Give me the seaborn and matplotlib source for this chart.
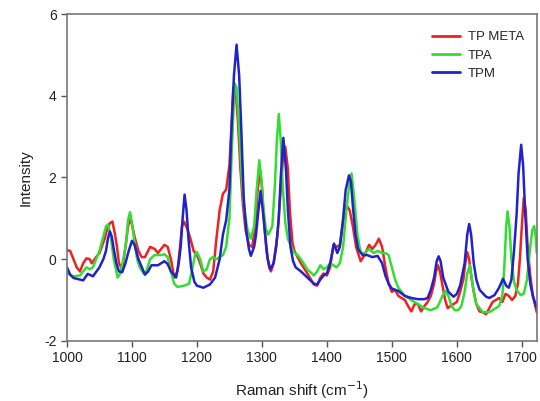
import numpy as np
import pandas as pd
import seaborn as sns
import matplotlib
matplotlib.use("Agg")
import matplotlib.pyplot as plt

# ---- data ----
tpm_x = [1000, 1005, 1010, 1020, 1025, 1032, 1040, 1050, 1056, 1060,
         1063, 1066, 1069, 1072, 1076, 1080, 1085, 1090, 1095, 1100,
         1104, 1110, 1120, 1125, 1130, 1140, 1150, 1155, 1160, 1168,
         1172, 1175, 1178, 1181, 1184, 1187, 1191, 1196, 1200, 1210,
         1220, 1228, 1235, 1240, 1245, 1250, 1253, 1257, 1261, 1265,
         1268, 1272, 1276, 1280, 1283, 1288, 1291, 1294, 1298, 1302,
         1305, 1309, 1313, 1318, 1322, 1326, 1329, 1333, 1337, 1340,
         1344, 1348, 1352, 1360, 1370, 1380, 1385, 1390, 1395, 1400,
         1405, 1411, 1416, 1420, 1425, 1429, 1434, 1437, 1440, 1444,
         1448, 1455, 1462, 1470, 1478, 1485, 1490, 1495, 1500, 1510,
         1520, 1530, 1540, 1550, 1555, 1560, 1565, 1569, 1572, 1575,
         1579, 1587, 1595, 1600, 1605, 1612, 1616, 1619, 1622, 1626,
         1630, 1635, 1645, 1650, 1658, 1665, 1671, 1676, 1680, 1684,
         1688, 1692, 1695, 1699, 1702, 1705, 1709, 1713, 1717, 1723]
tpm_y = [-0.2, -0.38, -0.46, -0.5, -0.52, -0.36, -0.42, -0.2, 0.0, 0.2,
         0.5, 0.68, 0.55, 0.25, -0.1, -0.3, -0.32, -0.1, 0.2, 0.45,
         0.35, 0.0, -0.38, -0.3, -0.15, -0.15, -0.05, -0.12, -0.3, -0.45,
         -0.1, 0.3, 1.0, 1.58, 1.2, 0.5, -0.2, -0.55, -0.65, -0.7,
         -0.62, -0.45, 0.0, 0.6, 0.95, 1.7, 3.1, 4.5, 5.25, 4.5,
         3.3, 1.5, 0.7, 0.25, 0.08, 0.3, 0.6, 1.1, 1.67, 1.1,
         0.6, 0.0, -0.25, -0.1, 0.3, 1.0, 2.0, 2.97, 2.2, 1.2,
         0.3, -0.05, -0.2, -0.3, -0.45, -0.6, -0.62, -0.5, -0.4, -0.35,
         -0.1, 0.38, 0.15, 0.3, 1.0, 1.7, 2.05, 1.9, 1.3, 0.6,
         0.25, 0.1, 0.1, 0.05, 0.08, -0.1, -0.4, -0.6, -0.72, -0.78,
         -0.9, -0.95, -0.98, -0.98, -0.95, -0.75, -0.45, -0.05, 0.07, -0.05,
         -0.45, -0.8, -0.92, -0.85, -0.65, -0.1, 0.6, 0.86, 0.6, -0.1,
         -0.5, -0.75, -0.92, -0.95, -0.88, -0.7, -0.48, -0.65, -0.7, -0.5,
         0.2, 1.1, 2.1, 2.8, 2.3, 1.2, 0.0, -0.6, -0.9, -1.2]

meta_x = [1000, 1005, 1010, 1015, 1020, 1025, 1030, 1035, 1038, 1045,
          1050, 1058, 1062, 1066, 1070, 1074, 1077, 1080, 1085, 1090,
          1094, 1097, 1100, 1104, 1110, 1115, 1120, 1128, 1135, 1140,
          1145, 1150, 1155, 1160, 1165, 1170, 1174, 1177, 1180, 1185,
          1190, 1195, 1200, 1205, 1210, 1215, 1220, 1225, 1230, 1235,
          1240, 1245, 1250, 1253, 1256, 1259, 1263, 1267, 1271, 1275,
          1280, 1285, 1290, 1293, 1297, 1300, 1303, 1307, 1311, 1314,
          1318, 1324, 1328, 1332, 1336, 1340, 1343, 1347, 1350, 1355,
          1360, 1370, 1380, 1385, 1390, 1395, 1400, 1405, 1410, 1415,
          1420, 1425, 1430, 1435, 1440, 1445, 1452, 1458, 1465, 1470,
          1475, 1480, 1485, 1490, 1495, 1500, 1505, 1510, 1515, 1520,
          1525, 1530, 1535, 1540, 1545, 1550, 1555, 1560, 1565, 1568,
          1571, 1574, 1578, 1582, 1586, 1590, 1595, 1600, 1605, 1610,
          1613, 1616, 1619, 1622, 1626, 1630, 1635, 1640, 1645, 1650,
          1655, 1660, 1665, 1670, 1675, 1680, 1685, 1690, 1694, 1697,
          1700, 1703, 1706, 1709, 1713, 1717, 1723]
meta_y = [0.22, 0.2, 0.0, -0.2, -0.3, -0.1, 0.02, 0.0, -0.1, 0.05,
          0.15, 0.5, 0.75, 0.88, 0.92, 0.6, 0.3, -0.1, -0.25, 0.3,
          0.8, 1.0, 0.85, 0.55, 0.2, 0.05, 0.05, 0.3, 0.25, 0.15,
          0.25, 0.35, 0.3, 0.0, -0.45, -0.3, 0.3, 0.8, 0.92, 0.75,
          0.5, 0.2, 0.1, -0.1, -0.35, -0.45, -0.5, -0.3, 0.5, 1.2,
          1.6, 1.7, 2.3, 3.2, 4.2, 4.25, 3.4, 2.2, 1.3, 0.7,
          0.35, 0.3, 0.8, 1.6, 2.18, 1.8, 1.0, 0.2, -0.2, -0.3,
          -0.1, 0.6, 1.5, 2.4, 2.75, 2.2, 1.2, 0.4, 0.2, 0.05,
          -0.1, -0.35, -0.62, -0.65, -0.45, -0.35, -0.4, -0.2, 0.35, 0.3,
          0.35, 0.9, 1.32, 1.2, 0.8, 0.3, -0.05, 0.1, 0.35, 0.25,
          0.35, 0.5, 0.3, -0.2, -0.6, -0.8, -0.75, -0.9, -0.95, -1.0,
          -1.15, -1.28, -1.1, -1.1, -1.28, -1.15, -1.05, -0.9, -0.6, -0.3,
          -0.15, -0.3, -0.65, -1.0, -1.2, -1.15, -1.1, -1.05, -0.8, -0.5,
          -0.1, 0.17, 0.0, -0.4, -0.8, -1.1, -1.28, -1.3, -1.35, -1.2,
          -1.05, -1.0, -0.95, -1.05, -0.85, -0.9, -1.0, -0.9, -0.6, 0.0,
          0.8, 1.5, 1.2, 0.3, -0.4, -0.9, -1.3]

tpa_x = [1000, 1010, 1020, 1025, 1030, 1035, 1040, 1045, 1050, 1055,
         1060, 1063, 1067, 1072, 1078, 1082, 1088, 1091, 1094, 1097,
         1100, 1104, 1108, 1112, 1118, 1122, 1128, 1135, 1145, 1150,
         1155, 1160, 1165, 1170, 1180, 1188, 1192, 1197, 1200, 1205,
         1210, 1215, 1220, 1225, 1230, 1235, 1240, 1245, 1250, 1254,
         1258, 1261, 1265, 1269, 1273, 1278, 1283, 1288, 1292, 1296,
         1299, 1302, 1306, 1310, 1316, 1320, 1323, 1326, 1329, 1332,
         1336, 1340, 1345, 1350, 1355, 1360, 1370, 1380, 1385, 1390,
         1395, 1400, 1405, 1410, 1415, 1420, 1425, 1430, 1435, 1438,
         1442, 1447, 1452, 1458, 1465, 1472, 1478, 1485, 1490, 1495,
         1500, 1505, 1510, 1520, 1530, 1540, 1550, 1560, 1570, 1575,
         1582, 1587, 1592, 1597, 1602, 1607, 1612, 1616, 1620, 1625,
         1630, 1640, 1650, 1660, 1665, 1670, 1673, 1676, 1678, 1681,
         1684, 1688, 1692, 1698, 1703, 1708, 1713, 1716, 1719, 1721,
         1723]
tpa_y = [-0.35, -0.42, -0.4, -0.3, -0.2, -0.25, -0.2, 0.0, 0.2, 0.5,
         0.8, 0.85, 0.6, 0.0, -0.45, -0.35, 0.1, 0.4, 0.95, 1.15,
         0.9, 0.4, 0.0, -0.2, -0.35, -0.3, 0.0, 0.1, 0.1, 0.12,
         0.05, -0.3, -0.6, -0.68, -0.65, -0.6, -0.3, 0.1, 0.17, 0.0,
         -0.3, -0.25, 0.0, 0.05, 0.0, 0.05, 0.1, 0.3, 1.0, 2.8,
         4.3, 4.2, 3.2, 2.0, 1.2, 0.7, 0.5, 0.8, 1.7, 2.42,
         2.0, 1.3, 0.75, 0.6, 0.8, 1.8, 2.9, 3.55, 2.9, 1.8,
         0.9, 0.5, 0.3, 0.15, 0.1, 0.0, -0.25, -0.4, -0.3, -0.15,
         -0.25, -0.2, -0.1, -0.15, -0.2, -0.1, 0.3, 1.2, 1.9, 2.1,
         1.5, 0.6, 0.15, 0.15, 0.25, 0.15, 0.2, 0.15, 0.15, 0.1,
         -0.2, -0.5, -0.7, -0.9, -1.0, -1.1, -1.2, -1.25, -1.18, -1.0,
         -0.77, -0.9, -1.15, -1.25, -1.25, -1.15, -0.8, -0.35, -0.15, -0.7,
         -1.1, -1.3, -1.3, -1.2, -1.15, -0.9, -0.2, 0.8, 1.17, 0.8,
         0.0, -0.55, -0.75, -0.88, -0.85, -0.5, 0.3, 0.7, 0.81, 0.6,
         0.15]

series_names = ["TP META", "TPA", "TPM"]
colors = ["#ee2222", "#33dd33", "#2222cc"]

df = pd.concat([
    pd.DataFrame({"x": meta_x, "y": meta_y, "s": series_names[0]}),
    pd.DataFrame({"x": tpa_x, "y": tpa_y, "s": series_names[1]}),
    pd.DataFrame({"x": tpm_x, "y": tpm_y, "s": series_names[2]}),
], ignore_index=True)

sns.set_style("white")
plt.rcParams["font.family"] = ["Liberation Sans", "DejaVu Sans"]
plt.rcParams["axes.unicode_minus"] = False

fig = plt.figure(figsize=(5.40, 4.01), dpi=100)
ax = fig.add_axes([0.124, 0.150, 0.870, 0.815])

sns.lineplot(data=df, x="x", y="y", hue="s", hue_order=series_names,
             palette=colors, sort=False, estimator=None, linewidth=1.8, ax=ax)

ax.set_xlim(1000, 1723)
ax.set_ylim(-2, 6)
ax.set_xticks([1000, 1100, 1200, 1300, 1400, 1500, 1600, 1700])
ax.set_yticks([-2, 0, 2, 4, 6])
ax.tick_params(axis="both", which="both", direction="out", length=4, width=1,
               colors="#555555", labelcolor="#222222", labelsize=10,
               bottom=True, left=True, top=False, right=False)
for sp in ax.spines.values():
    sp.set_color("#777777")
    sp.set_linewidth(1.2)

ax.set_xlabel("Raman shift (cm$^{-1}$)", fontsize=11, color="#222222", labelpad=10)
ax.set_ylabel("Intensity", fontsize=11, color="#222222", labelpad=8)

leg = ax.legend(loc="upper right", frameon=False, fontsize=9.5, handlelength=2.1,
                handletextpad=0.6, labelspacing=0.45, borderaxespad=0.4,
                bbox_to_anchor=(0.995, 0.98))
for line in leg.get_lines():
    line.set_linewidth(2)

fig.savefig("out.png", dpi=100)
